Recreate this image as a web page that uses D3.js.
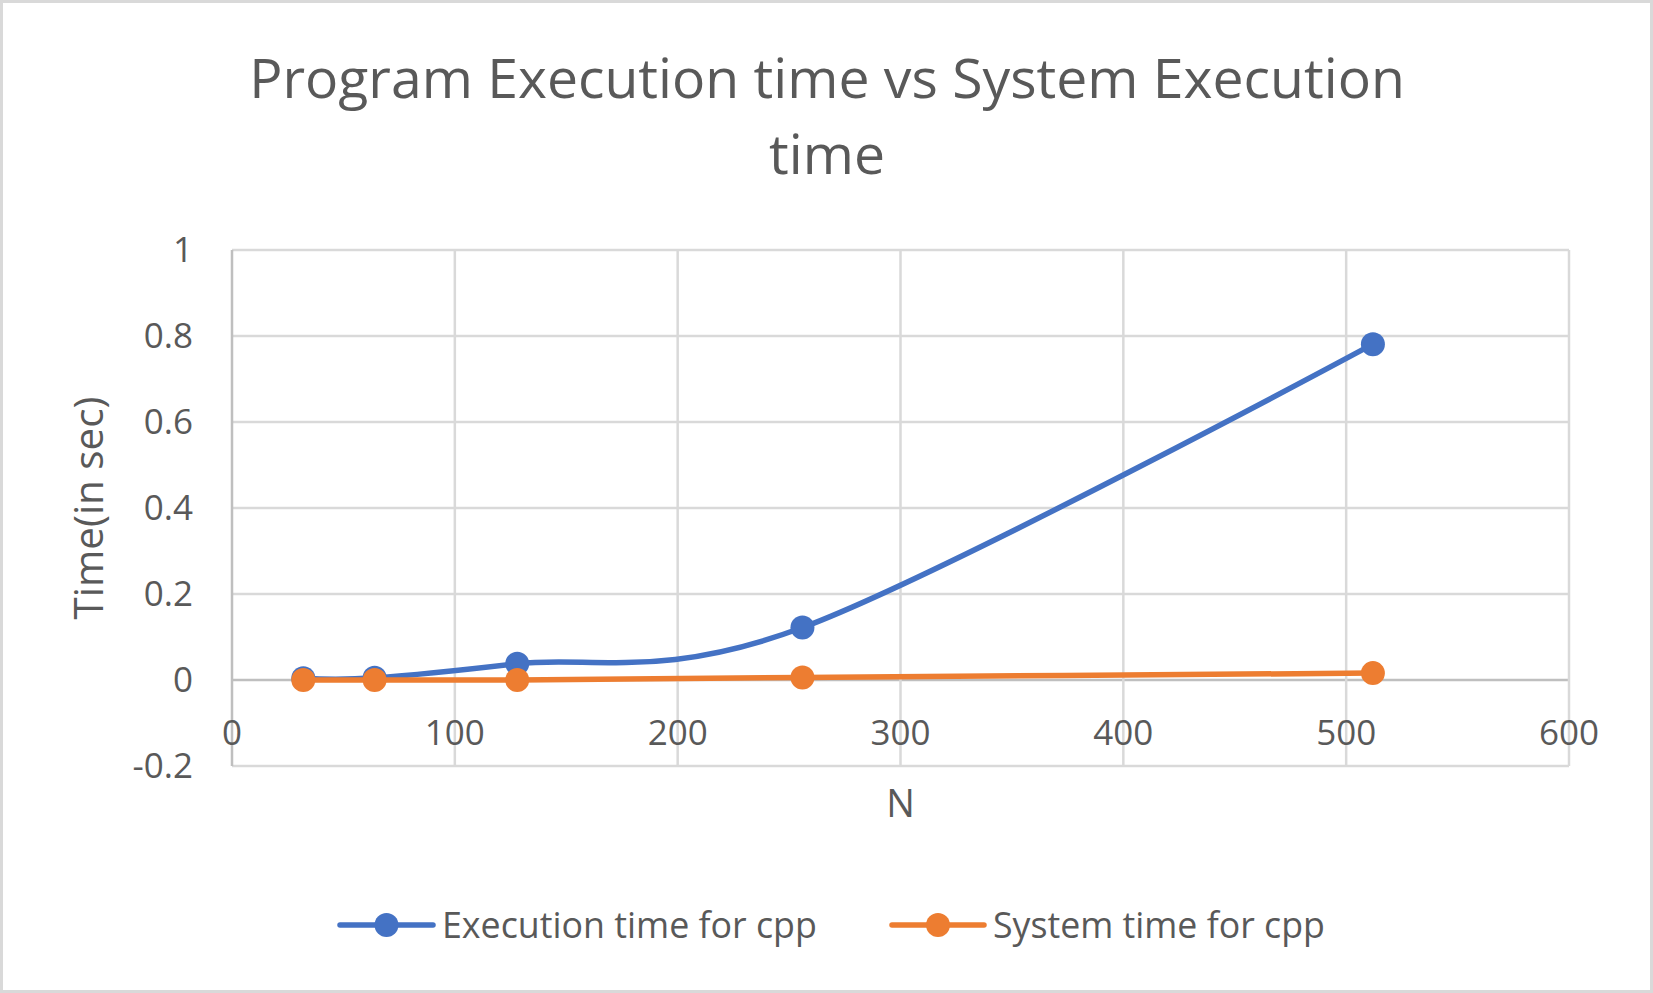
<!DOCTYPE html>
<html lang="en">
<head>
<meta charset="utf-8">
<title>Program Execution time vs System Execution time</title>
<script src="https://d3js.org/d3.v7.min.js"></script>
<style>
  body { margin: 0; background: #fff; }
  text { font-family: "Open Sans", sans-serif; fill: #595959; }
</style>
</head>
<body>
<svg id="chart"></svg>
<script>
// data
var nValues = [32, 64, 128, 256, 512];
var execTime = [0.004, 0.005, 0.038, 0.122, 0.781];
var sysTime = [0.0, 0.0, 0.0, 0.006, 0.016];
var xTicks = [0, 100, 200, 300, 400, 500, 600];
var yTicks = [-0.2, 0, 0.2, 0.4, 0.6, 0.8, 1];
var yTickLabels = ["-0.2", "0", "0.2", "0.4", "0.6", "0.8", "1"];
var seriesNames = ["Execution time for cpp", "System time for cpp"];
var seriesColors = ["#4472C4", "#ED7D31"];

var W = 1653, H = 993;
var svg = d3.select("#chart").attr("width", W).attr("height", H);

// chart border
svg.append("rect")
  .attr("x", 1.5).attr("y", 1.5)
  .attr("width", W - 3).attr("height", H - 3)
  .style("fill", "#fff").style("stroke", "#d9d9d9").style("stroke-width", 3);

var plot = { left: 232, right: 1569, top: 250, bottom: 766 };

var x = d3.scaleLinear().domain([0, 600]).range([plot.left, plot.right]);
var y = d3.scaleLinear().domain([-0.2, 1]).range([plot.bottom, plot.top]);

// fit a text to a given width by resizing the font
function fit(sel, width) {
  var w = sel.node().getComputedTextLength();
  var fs = parseFloat(sel.style("font-size"));
  sel.style("font-size", (fs * width / w) + "px");
}

// gridlines
svg.append("g").selectAll("line.h")
  .data(yTicks).enter().append("line")
  .attr("x1", plot.left).attr("x2", plot.right)
  .attr("y1", function(d) { return y(d); })
  .attr("y2", function(d) { return y(d); })
  .style("stroke", function(d) { return d === 0 ? "#bfbfbf" : "#d9d9d9"; })
  .style("stroke-width", 2.5);

svg.append("g").selectAll("line.v")
  .data(xTicks).enter().append("line")
  .attr("y1", plot.top).attr("y2", plot.bottom)
  .attr("x1", function(d) { return x(d); })
  .attr("x2", function(d) { return x(d); })
  .style("stroke", function(d) { return d === 0 ? "#bfbfbf" : "#d9d9d9"; })
  .style("stroke-width", 2.5);

// tick labels
svg.append("g").selectAll("text")
  .data(yTicks).enter().append("text")
  .attr("x", 193)
  .attr("y", function(d) { return y(d); })
  .attr("dy", "0.35em")
  .attr("text-anchor", "end")
  .style("font-size", "35px")
  .text(function(d, i) { return yTickLabels[i]; });

svg.append("g").selectAll("text")
  .data(xTicks).enter().append("text")
  .attr("x", function(d) { return x(d); })
  .attr("y", 745)
  .attr("text-anchor", "middle")
  .style("font-size", "35px")
  .text(function(d) { return d; });

// title
var title = svg.append("text")
  .attr("text-anchor", "middle")
  .attr("x", 827).attr("y", 98)
  .style("font-size", "56px");
title.append("tspan").attr("x", 827).text("Program Execution time vs System Execution");
fit(title, 1156);
title.append("tspan").attr("x", 827).attr("y", 174).text("time");

// axis titles
var yt = svg.append("text")
  .attr("text-anchor", "middle")
  .attr("transform", "translate(103,508) rotate(-90)")
  .style("font-size", "36px")
  .text("Time(in sec)");
fit(yt, 223);

svg.append("text")
  .attr("text-anchor", "middle")
  .attr("x", x(300)).attr("y", 817)
  .style("font-size", "38px")
  .text("N");

// series (orange drawn last, on top)
var series = [execTime, sysTime];
var line = d3.line()
  .x(function(d, i) { return x(nValues[i]); })
  .y(function(d) { return y(d); })
  .curve(d3.curveCardinal.tension(0));

series.forEach(function(vals, idx) {
  var g = svg.append("g");
  g.append("path")
    .datum(vals)
    .attr("d", line)
    .style("fill", "none")
    .style("stroke", seriesColors[idx])
    .style("stroke-width", 5.5)
    .style("stroke-linecap", "round");
  g.selectAll("circle")
    .data(vals).enter().append("circle")
    .attr("cx", function(d, i) { return x(nValues[i]); })
    .attr("cy", function(d) { return y(d); })
    .attr("r", 12)
    .style("fill", seriesColors[idx]);
});

// legend
var legendItems = [
  { x0: 340, x1: 433, tx: 442, tw: 375 },
  { x0: 892, x1: 984, tx: 993, tw: 332 }
];
legendItems.forEach(function(it, i) {
  var g = svg.append("g");
  g.append("line")
    .attr("x1", it.x0).attr("x2", it.x1)
    .attr("y1", 925).attr("y2", 925)
    .style("stroke", seriesColors[i])
    .style("stroke-width", 5.5)
    .style("stroke-linecap", "round");
  g.append("circle")
    .attr("cx", (it.x0 + it.x1) / 2).attr("cy", 925).attr("r", 12)
    .style("fill", seriesColors[i]);
  var t = g.append("text")
    .attr("x", it.tx).attr("y", 925).attr("dy", "0.35em")
    .style("font-size", "35px")
    .text(seriesNames[i]);
  fit(t, it.tw);
});
</script>
</body>
</html>
